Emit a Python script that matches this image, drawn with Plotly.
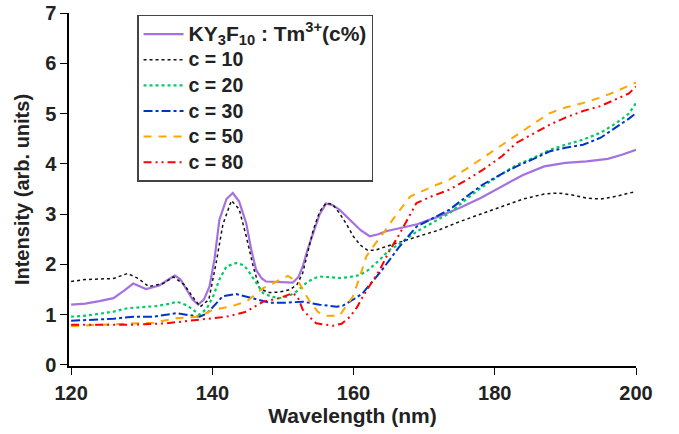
import plotly.graph_objects as go

# ---- data ----
wl_ky = [120, 122, 124, 126, 127.5, 128.8, 130.6, 132.5, 134, 134.7, 135.5, 136.3, 137.2, 138, 138.8, 139.6, 140.3, 141, 142, 142.9, 143.8, 144.8, 145.5, 146.2, 147, 147.6, 149.5, 151.4, 152.2, 152.8, 153.5, 154.3, 155.2, 156.1, 157, 158, 159, 159.9, 161, 162.3, 163.5, 164.6, 166.5, 169, 172, 175, 178, 181, 184, 187, 190, 193, 196, 198, 200]
int_ky = [1.2, 1.22, 1.27, 1.33, 1.48, 1.62, 1.51, 1.58, 1.72, 1.78, 1.7, 1.5, 1.3, 1.2, 1.3, 1.56, 2.1, 2.89, 3.3, 3.42, 3.25, 2.82, 2.3, 1.89, 1.72, 1.66, 1.65, 1.64, 1.75, 1.96, 2.3, 2.62, 3.0, 3.21, 3.18, 3.09, 2.95, 2.82, 2.68, 2.56, 2.6, 2.66, 2.72, 2.8, 2.95, 3.12, 3.32, 3.55, 3.78, 3.95, 4.02, 4.05, 4.1, 4.18, 4.28]

wl_c10 = [120, 122, 124, 126, 128, 129.5, 131, 133, 134.5, 136, 137.5, 138.3, 139.5, 140.5, 141.5, 142.7, 143.8, 144.8, 145.8, 146.7, 148, 149.5, 151, 152, 152.8, 153.5, 154.3, 155.2, 156.1, 157, 158, 159, 160, 161, 162, 163, 164.2, 166, 169, 172, 175, 178, 181, 184, 187, 189, 191, 193, 195, 197, 200]
int_c10 = [1.66, 1.70, 1.71, 1.72, 1.82, 1.72, 1.56, 1.62, 1.75, 1.6, 1.3, 1.16, 1.3, 2.0, 2.8, 3.27, 3.1, 2.56, 1.95, 1.52, 1.44, 1.45, 1.5, 1.6, 1.83, 2.25, 2.69, 3.05, 3.22, 3.2, 3.02, 2.8, 2.55, 2.38, 2.28, 2.28, 2.33, 2.42, 2.55, 2.68, 2.85, 3.0, 3.15, 3.3, 3.4, 3.42, 3.38, 3.32, 3.3, 3.35, 3.45]

wl_c20 = [120, 122, 124, 126, 128, 130, 132, 134, 135, 136.5, 138.2, 139.2, 140.1, 141, 142, 143.4, 144.5, 145.3, 146.3, 147.2, 148.3, 149.5, 150.7, 151.9, 153.3, 154.3, 155.2, 157, 158, 159.5, 160.9, 162, 163.7, 165, 166.3, 168.9, 171, 173.6, 176, 178.3, 181, 183.1, 185.5, 187.8, 190, 192.5, 195, 197.2, 199, 200]
int_c20 = [0.96, 0.98, 1.02, 1.06, 1.13, 1.15, 1.17, 1.22, 1.26, 1.18, 1.0, 1.12, 1.36, 1.7, 1.96, 2.03, 1.98, 1.83, 1.62, 1.43, 1.36, 1.33, 1.36, 1.46, 1.63, 1.72, 1.76, 1.74, 1.73, 1.75, 1.79, 1.88, 2.09, 2.28, 2.39, 2.65, 2.82, 3.02, 3.3, 3.55, 3.8, 3.98, 4.12, 4.28, 4.38, 4.48, 4.62, 4.81, 5.0, 5.21]

wl_c30 = [120, 122, 124, 126, 128.8, 131.7, 134.9, 136.5, 138.2, 139.2, 140.1, 141.5, 143.4, 145.8, 148.1, 150.5, 152.8, 155.2, 157.6, 158.5, 159.5, 160.4, 161.3, 162.5, 163.7, 165.1, 166.3, 168.9, 171, 173.6, 176, 178.3, 181, 183.1, 185.5, 187.8, 190, 192.5, 195, 197.2, 199, 200]
int_c30 = [0.88, 0.89, 0.9, 0.92, 0.96, 0.96, 1.03, 1.0, 0.96, 1.02, 1.16, 1.37, 1.41, 1.33, 1.24, 1.24, 1.26, 1.2, 1.16, 1.18, 1.26, 1.34, 1.43, 1.62, 1.83, 2.09, 2.32, 2.75, 2.9, 3.09, 3.35, 3.59, 3.8, 3.95, 4.1, 4.25, 4.32, 4.38, 4.52, 4.72, 4.9, 5.01]

wl_c50 = [120, 122, 124, 126, 128.8, 131.7, 134.9, 138.2, 140.1, 142.5, 144.8, 147.2, 149.1, 150.7, 152.3, 153.8, 155, 156.1, 158, 159.9, 161, 161.8, 163, 164.2, 165.7, 168, 171.2, 173.6, 176, 178.3, 181, 183.1, 185.5, 187.8, 190, 192.5, 195, 197.2, 199, 200]
int_c50 = [0.77, 0.79, 0.8, 0.81, 0.83, 0.84, 0.93, 0.96, 1.1, 1.16, 1.26, 1.53, 1.66, 1.77, 1.63, 1.26, 1.05, 0.98, 0.98, 1.36, 1.8, 2.16, 2.4, 2.62, 2.92, 3.35, 3.55, 3.69, 3.9, 4.12, 4.38, 4.58, 4.8, 5.01, 5.12, 5.21, 5.32, 5.44, 5.55, 5.62]

wl_c80 = [120, 122, 124, 126, 128.8, 133.5, 138.2, 142, 144.8, 147.2, 149.5, 151.4, 152.1, 152.8, 153.8, 154.7, 157.1, 158.3, 159.5, 160.5, 161.3, 162.5, 163.7, 165, 166.4, 168.9, 171, 173.6, 176, 178.3, 181, 183.1, 185.5, 187.8, 190, 192.5, 195, 197.2, 199, 200]
int_c80 = [0.8, 0.8, 0.8, 0.8, 0.8, 0.83, 0.9, 0.96, 1.06, 1.26, 1.33, 1.43, 1.35, 1.1, 0.95, 0.83, 0.78, 0.82, 0.96, 1.15, 1.36, 1.62, 1.89, 2.25, 2.58, 3.22, 3.35, 3.49, 3.68, 3.88, 4.15, 4.42, 4.6, 4.78, 4.92, 5.05, 5.15, 5.28, 5.4, 5.54]

x_ticks = [120, 140, 160, 180, 200]
y_ticks = [0, 1, 2, 3, 4, 5, 6, 7]

header = "KY<sub>3</sub>F<sub>10</sub> : Tm<sup>3+</sup>(c%)"
labels = ["c = 10", "c = 20", "c = 30", "c = 50", "c = 80"]

series = [
    (f"<span style='font-size:21px'>{header}</span>", wl_ky, int_ky, "#A472E0", "solid", 2.2),
    (f"<span style='font-size:19.5px'>{labels[0]}</span>", wl_c10, int_c10, "#111111", "dot", 1.5),
    (f"<span style='font-size:19.5px'>{labels[1]}</span>", wl_c20, int_c20, "#00CC66", "dot", 2.2),
    (f"<span style='font-size:19.5px'>{labels[2]}</span>", wl_c30, int_c30, "#0033CC", "dashdot", 2.0),
    (f"<span style='font-size:19.5px'>{labels[3]}</span>", wl_c50, int_c50, "#FFA500", "8px,7px", 2.0),
    (f"<span style='font-size:19.5px'>{labels[4]}</span>", wl_c80, int_c80, "#FF0000", "8px,4px,2px,4px,2px,4px", 2.0),
]

FONT = "Liberation Sans, Arial, sans-serif"
TXT = "#222222"

fig = go.Figure()
for name, xs, ys, col, dash, w in series:
    fig.add_trace(go.Scatter(
        x=xs, y=ys, mode="lines", name=name,
        line=dict(color=col, dash=dash, width=w),
    ))

fig.update_layout(
    template="none",
    width=679, height=434,
    margin=dict(l=69, r=43, t=13, b=68, autoexpand=False),
    paper_bgcolor="white", plot_bgcolor="white",
    font=dict(family=FONT, size=18, color=TXT, weight="bold"),
    showlegend=True,
    legend=dict(
        x=0.12, y=0.995, xanchor="left", yanchor="top",
        bgcolor="white", bordercolor="#444444", borderwidth=1.5,
        font=dict(family=FONT, size=17.4, color=TXT, weight="bold"),
        tracegroupgap=0, itemwidth=40,
    ),
    xaxis=dict(
        range=[119.7, 200], tickvals=x_ticks, ticktext=[str(v) for v in x_ticks],
        showgrid=False, zeroline=False, showline=True, linecolor="black", linewidth=1.5,
        ticks="outside", ticklen=7, tickwidth=1.2, tickcolor="black",
        ticklabelstandoff=1, automargin=False,
        tickfont=dict(family=FONT, size=20, color=TXT, weight="bold"),
        title=dict(text="Wavelength (nm)", standoff=2,
                   font=dict(family=FONT, size=21, color=TXT, weight="bold")),
    ),
    yaxis=dict(
        range=[-0.02, 7.0], tickvals=y_ticks, ticktext=[str(v) for v in y_ticks],
        showgrid=False, zeroline=False, showline=True, linecolor="black", linewidth=1.5,
        ticks="outside", ticklen=7, tickwidth=1.2, tickcolor="black",
        automargin=False,
        tickfont=dict(family=FONT, size=20, color=TXT, weight="bold"),
        title=dict(text="Intensity (arb. units)", standoff=10,
                   font=dict(family=FONT, size=20, color=TXT, weight="bold")),
    ),
)

fig.write_html("out.html")
